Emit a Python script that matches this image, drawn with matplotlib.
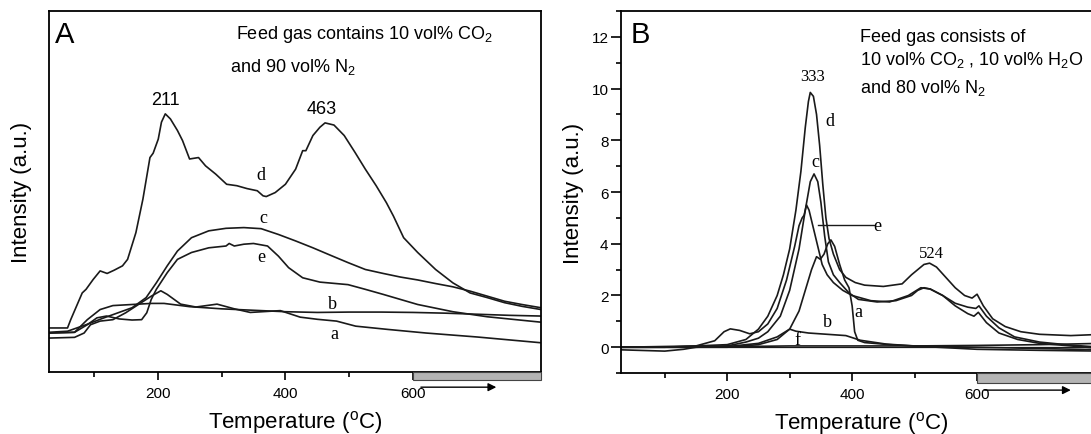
import matplotlib
matplotlib.use("Agg")
import matplotlib.pyplot as plt
from matplotlib.patches import Rectangle
from matplotlib.ticker import MultipleLocator
import matplotlib.transforms as mtransforms

plt.rcParams['font.family'] = ['Liberation Sans', 'DejaVu Sans']
plt.rcParams['mathtext.default'] = 'regular'

# ---- panel A: CO2 + N2 feed (arbitrary intensity units) ----
tA_d = [30, 59, 64, 82, 88, 99, 110, 121, 132, 145, 153, 166, 177, 188, 193, 201, 206, 212,
        220, 231, 239, 250, 264, 275, 291, 308, 324, 340, 356, 365, 370, 384, 400, 416, 427,
        432, 443, 454, 462, 476, 492, 509, 525, 542, 558, 569, 585, 607, 635, 662, 689, 716,
        743, 770, 800]
yA_d = [12.2, 12.2, 14.5, 21.9, 22.9, 25.6, 28.0, 27.3, 28.2, 29.4, 31.2, 38.6, 47.9, 59.4,
        60.6, 64.5, 69.2, 71.5, 70.1, 66.9, 64.1, 59.0, 59.4, 57.1, 54.8, 52.0, 51.6, 50.8,
        50.2, 48.8, 48.6, 49.7, 52.0, 56.2, 61.3, 61.3, 65.5, 67.8, 69.0, 68.4, 65.5, 60.8,
        56.2, 51.6, 46.9, 43.2, 37.2, 33.1, 28.4, 24.7, 21.9, 20.6, 19.2, 18.2, 17.3]

tA_c = [30, 59, 88, 116, 138, 160, 182, 198, 215, 231, 253, 280, 307, 335, 362, 389, 416, 443,
        471, 498, 525, 553, 580, 607, 635, 662, 689, 716, 743, 770, 800]
yA_c = [11.0, 11.3, 13.1, 15.0, 16.4, 17.8, 20.6, 24.7, 29.4, 33.5, 37.2, 39.1, 39.8, 40.0,
        39.7, 38.1, 36.3, 34.4, 32.3, 30.3, 28.4, 27.3, 26.3, 25.5, 24.5, 23.6, 22.4, 21.0,
        19.6, 18.7, 17.8]

tA_e = [30, 70, 90, 105, 120, 140, 160, 175, 183, 190, 198, 215, 231, 253, 280, 307, 312, 320,
        335, 350, 372, 389, 405, 427, 454, 498, 525, 553, 580, 607, 662, 716, 800]
yA_e = [10.8, 11.0, 13.1, 15.0, 15.5, 14.7, 14.4, 14.5, 16.4, 20.1, 22.9, 27.5, 31.2, 33.1,
        34.4, 34.9, 35.6, 34.9, 35.4, 35.6, 34.9, 32.1, 28.9, 26.1, 24.9, 24.2, 22.9, 21.5,
        20.1, 18.7, 16.7, 15.3, 13.8]

tA_a = [30, 70, 85, 95, 110, 130, 150, 170, 190, 205, 215, 236, 260, 293, 320, 345, 392, 423,
        450, 480, 510, 560, 620, 700, 800]
yA_a = [9.4, 9.6, 10.8, 13.1, 14.1, 14.5, 16.4, 18.7, 21.0, 22.5, 21.5, 18.8, 18.0, 18.8,
        17.5, 16.5, 17.0, 15.2, 14.6, 14.1, 12.7, 11.8, 10.8, 9.7, 8.1]

tA_b = [30, 70, 90, 110, 130, 160, 190, 210, 250, 300, 350, 400, 450, 500, 550, 600, 650, 700,
        750, 800]
yA_b = [10.8, 11.0, 14.5, 17.3, 18.4, 18.7, 19.0, 19.0, 18.1, 17.5, 17.1, 16.7, 16.5, 16.6,
        16.6, 16.5, 16.3, 16.0, 15.7, 15.5]

# ---- panel B: CO2 + H2O + N2 feed ----
tB_d = [30, 100, 150, 200, 230, 250, 265, 280, 290, 300, 310, 318, 325, 330, 333, 338, 343,
        348, 353, 358, 363, 370, 380, 390, 405, 420, 450, 480, 495, 505, 515, 524, 535, 550,
        565, 580, 592, 600, 610, 625, 645, 670, 700, 750, 800]
yB_d = [0.0, 0.0, 0.05, 0.1, 0.3, 0.7, 1.2, 2.0, 2.8, 3.8, 5.3, 6.8, 8.5, 9.5, 9.85, 9.7, 9.0,
        7.8, 6.3, 5.0, 4.2, 3.6, 3.0, 2.7, 2.5, 2.4, 2.35, 2.45, 2.8, 3.0, 3.2, 3.25, 3.1, 2.7,
        2.3, 2.0, 1.9, 2.05, 1.6, 1.1, 0.8, 0.6, 0.5, 0.45, 0.5]

tB_a = [30, 200, 250, 280, 300, 315, 325, 335, 343, 349, 355, 361, 366, 372, 380, 388, 395,
        400, 404, 409, 420, 460, 520, 600, 700, 800]
yB_a = [0.0, 0.0, 0.1, 0.3, 0.7, 1.4, 2.2, 3.0, 3.5, 3.4, 3.6, 4.0, 4.15, 3.9, 3.2, 2.6, 2.3,
        1.6, 0.6, 0.27, 0.18, 0.1, 0.02, -0.08, -0.12, -0.15]

tB_c = [30, 150, 200, 230, 250, 265, 285, 300, 315, 325, 333, 339, 345, 350, 356, 362, 370,
        380, 395, 410, 440, 470, 495, 505, 515, 525, 545, 565, 585, 598, 603, 615, 635, 660,
        700, 750, 800]
yB_c = [0.0, 0.02, 0.05, 0.2, 0.35, 0.6, 1.2, 2.2, 3.8, 5.3, 6.4, 6.7, 6.4, 5.6, 4.3, 3.3,
        2.8, 2.5, 2.1, 1.85, 1.75, 1.8, 2.0, 2.2, 2.3, 2.25, 2.0, 1.7, 1.55, 1.5, 1.6, 1.2,
        0.75, 0.4, 0.2, 0.08, 0.0]

tB_e = [30, 150, 180, 195, 205, 220, 236, 250, 265, 280, 295, 308, 315, 320, 323, 327, 331,
        337, 345, 352, 360, 370, 385, 400, 430, 460, 490, 510, 525, 545, 565, 585, 595, 602,
        615, 635, 665, 700, 750, 800]
yB_e = [0.0, 0.05, 0.25, 0.6, 0.71, 0.65, 0.52, 0.6, 0.9, 1.5, 2.6, 3.9, 4.7, 5.0, 5.1, 5.5,
        5.3, 4.7, 3.9, 3.2, 2.8, 2.5, 2.2, 2.0, 1.8, 1.75, 2.0, 2.3, 2.25, 2.0, 1.6, 1.3, 1.2,
        1.35, 0.95, 0.55, 0.3, 0.15, 0.05, -0.05]

tB_b = [30, 150, 210, 250, 280, 300, 310, 330, 360, 390, 413, 455, 500, 600, 700, 800]
yB_b = [0.0, 0.0, 0.05, 0.15, 0.4, 0.7, 0.62, 0.55, 0.5, 0.45, 0.27, 0.12, 0.05, 0.0, -0.05,
        -0.1]

tB_f = [30, 100, 130, 150, 200, 300, 400, 500, 600, 700, 800]
yB_f = [-0.1, -0.15, -0.08, 0.0, 0.02, 0.05, 0.05, 0.05, 0.07, 0.1, 0.15]

line_kw = dict(color='#1a1a1a', lw=1.2)
serif = ['Liberation Serif', 'DejaVu Serif']

fig = plt.figure(figsize=(10.91, 4.35), dpi=100)
axA = fig.add_axes([0.0449, 0.1425, 0.451, 0.830])
axB = fig.add_axes([0.5692, 0.140, 0.4409, 0.8325])


def temp_axis(ax, arrow_to, arrow_y, bar_h):
    ax.set_xlim(30, 800)
    ax.xaxis.set_minor_locator(MultipleLocator(100))
    ax.set_xticks([200, 400, 600])
    ax.tick_params(axis='x', which='major', direction='out', length=6, width=1.2,
                   labelsize=11, pad=4)
    ax.tick_params(axis='x', which='minor', direction='out', length=3.5, width=1.2)
    for s in ax.spines.values():
        s.set_linewidth(1.3)
    trans = mtransforms.blended_transform_factory(ax.transData, ax.transAxes)
    ax.add_patch(Rectangle((600, 0), 200, -bar_h, transform=trans, clip_on=False,
                           facecolor='#b4b4b4', edgecolor='#444444', lw=0.8, zorder=3))
    ax.annotate('', xy=(arrow_to, arrow_y), xytext=(612, arrow_y), xycoords=trans,
                textcoords=trans, annotation_clip=False,
                arrowprops=dict(arrowstyle='-|>', color='black', lw=1.0,
                                mutation_scale=12, shrinkA=0, shrinkB=0))


xlabel = r'Temperature ($^{o}$C)'

# Panel A
for t, y in [(tA_d, yA_d), (tA_c, yA_c), (tA_e, yA_e), (tA_a, yA_a), (tA_b, yA_b)]:
    axA.plot(t, y, **line_kw)
axA.set_ylim(0, 100)
axA.set_yticks([])
temp_axis(axA, 730, -0.042, 0.022)
axA.set_xlabel(xlabel, fontsize=16, labelpad=6)
axA.set_ylabel('Intensity (a.u.)', fontsize=16)
axA.yaxis.set_label_coords(-0.034, 0.5)
axA.text(0.012, 0.914, 'A', transform=axA.transAxes, fontsize=21, va='baseline')
axA.text(0.38, 0.925, 'Feed gas contains 10 vol% CO$_2$', transform=axA.transAxes,
         fontsize=13, va='baseline')
axA.text(0.368, 0.834, 'and 90 vol% N$_2$', transform=axA.transAxes, fontsize=13,
         va='baseline')
axA.text(212, 75.6, '211', fontsize=13, ha='center', va='center')
axA.text(457, 72.9, '463', fontsize=13, ha='center', va='center')
for lab, x, y in [('d', 362, 54.8), ('c', 365, 42.8), ('e', 363, 32.1), ('b', 474, 19.0),
                  ('a', 476, 10.8)]:
    axA.text(x, y, lab, family=serif, fontsize=13, ha='center', va='center')

# Panel B
for t, y in [(tB_d, yB_d), (tB_c, yB_c), (tB_e, yB_e), (tB_a, yB_a), (tB_b, yB_b),
             (tB_f, yB_f)]:
    axB.plot(t, y, **line_kw)
axB.axhline(0, color='#1a1a1a', lw=0.9)
axB.set_ylim(-1, 13)
axB.yaxis.set_minor_locator(MultipleLocator(1))
axB.set_yticks([0, 2, 4, 6, 8, 10, 12])
axB.tick_params(axis='y', which='major', direction='out', length=7, width=1.2, labelsize=11,
                pad=2)
axB.tick_params(axis='y', which='minor', direction='out', length=3.5, width=1.2)
temp_axis(axB, 750, -0.047, 0.027)
axB.spines['right'].set_visible(False)
axB.set_ylabel('Intensity (a.u.)', fontsize=16)
axB.yaxis.set_label_coords(-0.077, 0.5)
fig.text(0.789, 0.014, xlabel, fontsize=16, ha='center', va='baseline')
axB.text(0.019, 0.914, 'B', transform=axB.transAxes, fontsize=21, va='baseline')
axB.text(0.497, 0.917, 'Feed gas consists of', transform=axB.transAxes, fontsize=13,
         va='baseline')
axB.text(0.497, 0.854, '10 vol% CO$_2$ , 10 vol% H$_2$O', transform=axB.transAxes,
         fontsize=13, va='baseline')
axB.text(0.497, 0.776, 'and 80 vol% N$_2$', transform=axB.transAxes, fontsize=13,
         va='baseline')
axB.text(336, 10.5, '333', family=serif, fontsize=12, ha='center', va='center')
axB.text(527, 3.63, '524', family=serif, fontsize=12, ha='center', va='center')
axB.plot([345, 435], [4.72, 4.72], color='#1a1a1a', lw=1.0)
for lab, x, y in [('d', 364, 8.78), ('c', 341, 7.17), ('e', 441, 4.72), ('a', 410, 1.38),
                  ('b', 361, 0.99), ('f', 312, 0.28)]:
    axB.text(x, y, lab, family=serif, fontsize=13, ha='center', va='center')

fig.savefig('out.png', dpi=100)
